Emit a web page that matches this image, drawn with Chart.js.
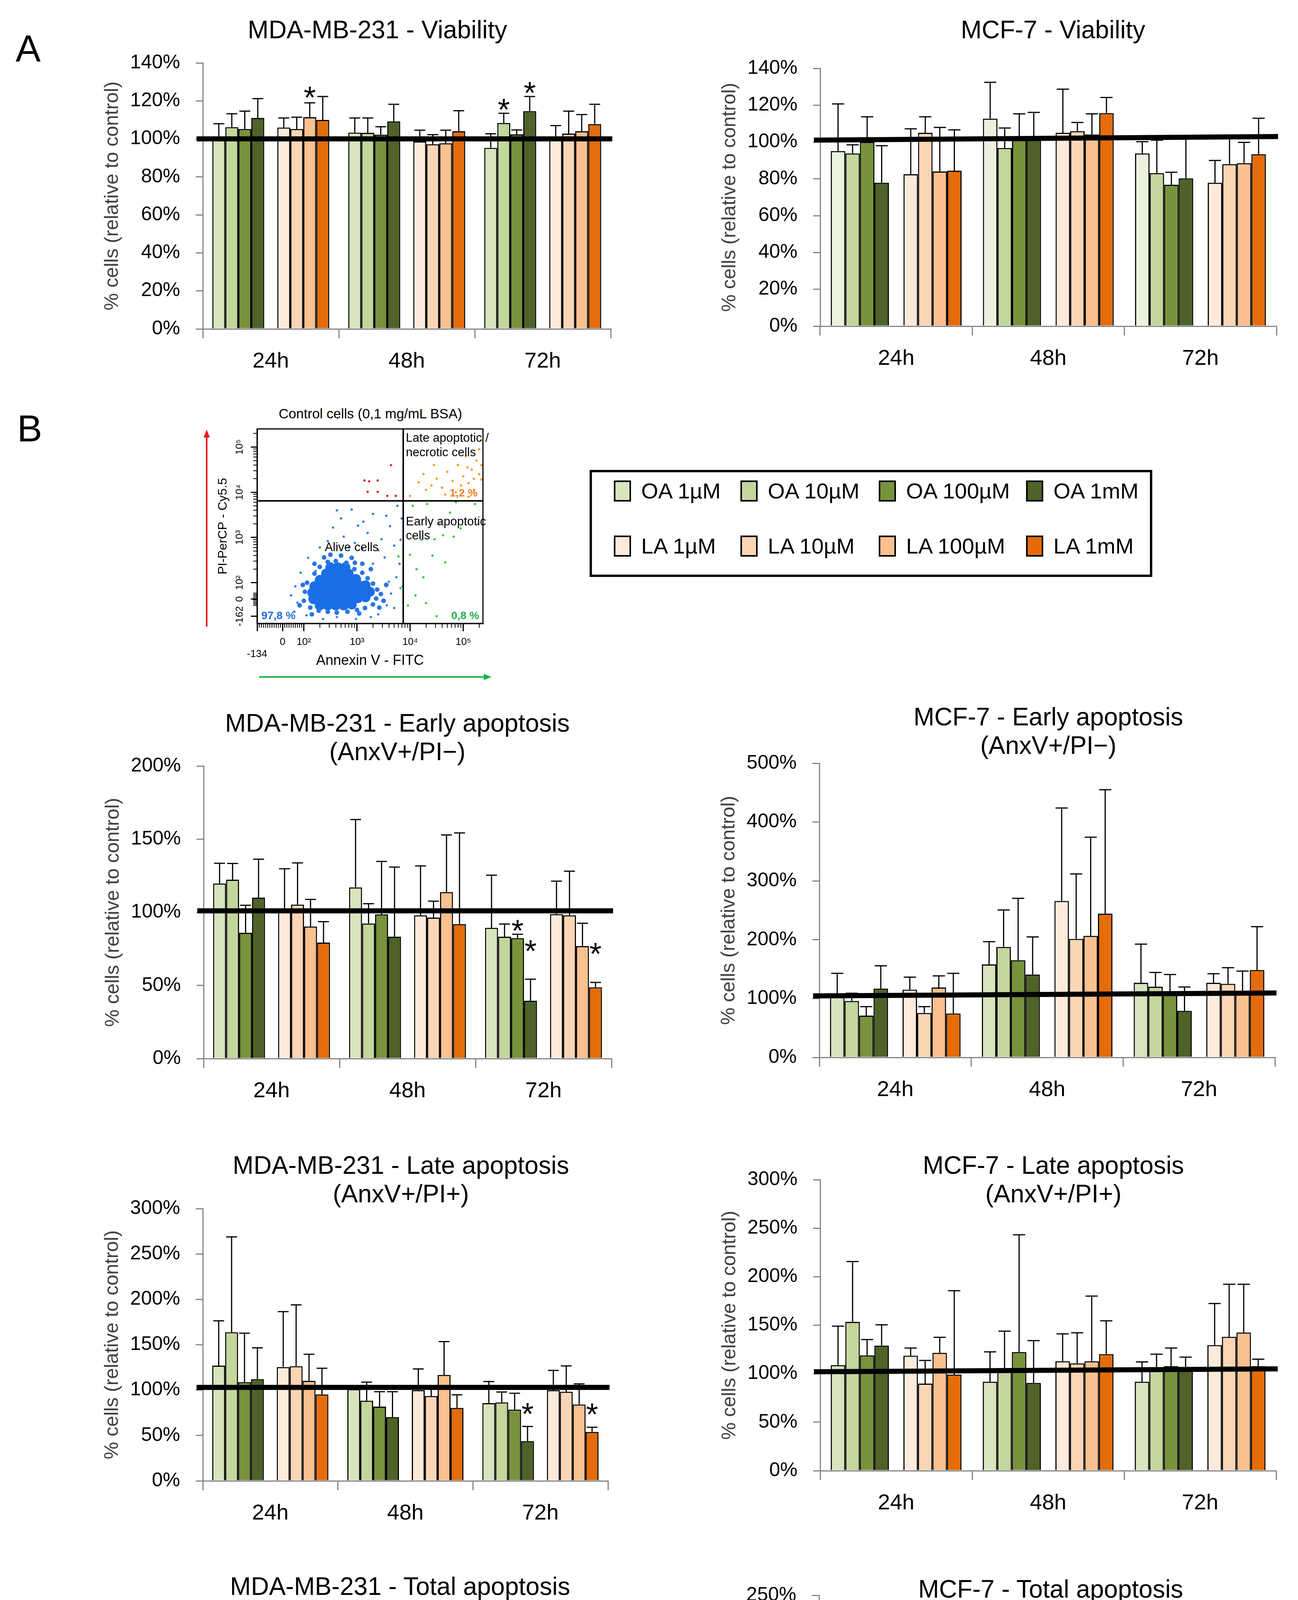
<!DOCTYPE html>
<html>
<head>
<meta charset="UTF-8">
<title>Viability and apoptosis - MDA-MB-231 / MCF-7</title>
<script src="https://cdn.jsdelivr.net/npm/chart.js@4.4.1/dist/chart.umd.min.js"></script>
<style>
    body { margin: 0; background: #fff; }
    #page { position: relative; width: 3322px; height: 4983px; overflow: hidden; background: #fff;
            font-family: 'Liberation Sans', Arial, sans-serif; color: #000; }
    .box { position: absolute; }
    .lbl { position: absolute; white-space: nowrap; line-height: 1; transform: translate(-50%, -50%); }
    #legend { position: absolute; left: 1509px; top: 1203px; width: 1440px; height: 274px;
              border: 6px solid #000; box-sizing: border-box; }
    #legend .item { position: absolute; display: flex; align-items: center; font-size: 56px; line-height: 1;
                    transform: translateY(-50%); white-space: nowrap; }
    #legend .sw { display: inline-block; width: 36px; height: 46px; border: 4px solid #000; margin-right: 26px; }
</style>
</head>
<body>
<div id="page">
    <div class="lbl" style="left:72px;top:124px;font-size:96px;">A</div>
    <div class="lbl" style="left:76px;top:1097px;font-size:96px;">B</div>
    <div class="lbl" style="left:948px;top:1058px;font-size:35px;">Control cells (0,1 mg/mL BSA)</div>
    <div id="legend"></div>
</div>

<script>
    // categories and series
    var timePoints = ['24h', '48h', '72h'];
    var seriesNames = ['OA 1µM', 'OA 10µM', 'OA 100µM', 'OA 1mM', 'LA 1µM', 'LA 10µM', 'LA 100µM', 'LA 1mM'];
    var seriesColours = ['#d7e4bd', '#c3d69b', '#77933c', '#4f6228', '#fdeada', '#fcd5b5', '#fac090', '#e46c0a'];

    // y tick values (%)
    var ticksViability = [0, 20, 40, 60, 80, 100, 120, 140];
    var ticksMdaEarly = [0, 50, 100, 150, 200];
    var ticksMcfEarly = [0, 100, 200, 300, 400, 500];
    var ticksLate = [0, 50, 100, 150, 200, 250, 300];
    var ticksTotal = [0, 50, 100, 150, 200, 250];

    // rows = series (OA 1µM ... LA 1mM), columns = 24h, 48h, 72h
    var mdaViabilityMean = [
        [100, 103.3, 95.3], [106.2, 103.2, 108.4], [105.2, 102.2, 102.4], [111, 109.2, 114.6],
        [106, 98.7, 100], [105.2, 97.2, 102.8], [111.4, 97.7, 104], [110, 104, 107.8]
    ];
    var mdaViabilitySd = [
        [8, 7.7, 7.4], [7, 7.8, 5.1], [9.4, 4.2, 2.3], [10.2, 9, 7.7],
        [5, 5.9, 7], [6.2, 5, 11.8], [7.6, 6.9, 8.8], [12.3, 10.8, 10.4]
    ];
    var mdaViabilityStars = [[0, 6, 125.6], [2, 1, 119.3], [2, 3, 128.1]];  // [time, series, height %]
    var mdaViabilityControl = [100, 100];

    var mcfViabilityMean = [
        [95.1, 112.7, 93.8], [93.8, 96.8, 83.1], [100, 101, 76.8], [77.9, 101, 80.3],
        [82.5, 105, 77.9], [105, 105.9, 88], [84, 104.1, 88.5], [84.4, 115.7, 93.4]
    ];
    var mcfViabilitySd = [
        [25.6, 19.7, 6.4], [4.7, 10.8, 17.9], [13.7, 14.3, 6.8], [20.1, 15.1, 21.6],
        [24.7, 23.7, 12.1], [8.7, 4.7, 14], [23.9, 11.2, 11.3], [22.2, 8.5, 19.5]
    ];
    var mcfViabilityControl = [101, 103];

    var mdaEarlyMean = [
        [119.7, 117, 89.4], [122.3, 92.3, 83.3], [86, 98.6, 82.4], [110, 83.3, 39.5],
        [101, 97.9, 98.7], [105.3, 96.4, 97.9], [90.3, 113.8, 76.9], [79.3, 91.9, 48.7]
    ];
    var mdaEarlySd = [
        [13.8, 46.4, 36], [11.1, 13.6, 8.7], [18.8, 36.2, 2.6], [26.3, 47.6, 14.8],
        [28.8, 33.8, 22.6], [28.5, 11.2, 30.2], [18.5, 39.1, 15.6], [14.3, 62.4, 3.4]
    ];
    var mdaEarlyStars = [[2, 2, 92.5], [2, 3, 78.4], [2, 7, 76.6]];
    var mdaEarlyControl = [101, 101];

    var mcfEarlyMean = [
        [105.8, 158, 126.9], [95.9, 187.7, 120.2], [71.1, 165.2, 108], [117, 140.9, 79.2],
        [115.2, 266, 126.9], [75.6, 201.6, 125.1], [118.8, 206.6, 109], [74.7, 244.4, 148.5]
    ];
    var mcfEarlySd = [
        [37.2, 38.7, 65.7], [13.1, 63, 24.3], [15.3, 105.3, 32.9], [38.7, 63.9, 40.5],
        [21.2, 158, 15.3], [10.8, 110.3, 27.5], [19.8, 167.8, 37.7], [68.3, 210.6, 73.8]
    ];
    var mcfEarlyControl = [104.5, 109.5];

    var mdaLateMean = [
        [127, 101, 85.7], [163.8, 88.3, 86.4], [108.8, 81.8, 78.5], [112.1, 70.3, 43.8],
        [125.4, 100, 100], [126.3, 93.5, 98.2], [110.2, 116.8, 84.2], [95.2, 80.4, 53.9]
    ];
    var mdaLateSd = [
        [49.4, 2, 23.7], [105, 20.5, 11.5], [53.9, 16.4, 18], [34.5, 27.9, 16.1],
        [61.1, 23.3, 21.7], [67.6, 7.5, 28.4], [29.3, 36.6, 22.7], [28.9, 14.4, 5.2]
    ];
    var mdaLateStars = [[2, 3, 81.8], [2, 7, 81.2]];
    var mdaLateControl = [103, 103];

    var mcfLateMean = [
        [108.8, 91.7, 91.7], [153.4, 105.7, 104.6], [118.9, 122.3, 107.8], [129, 90.5, 105.2],
        [118.6, 112.9, 129.5], [89.8, 110.6, 138], [121.5, 112.9, 142.4], [99.2, 120.2, 107.8]
    ];
    var mcfLateSd = [
        [40.2, 30.8, 20.4], [62.2, 38.2, 15.5], [16.3, 120.9, 18.6], [21.4, 43.6, 11.9],
        [7.8, 28.1, 42.8], [23.9, 31.5, 54.2], [16, 67.1, 49.8], [86.3, 34.3, 7.2]
    ];
    var mcfLateControl = [102, 105];

    var mdaTotalMean = [
        [124.8, 104.4, 84.6], [145.2, 91.6, 86.2], [101, 87.1, 78.9], [109.1, 73.5, 43.2],
        [113.8, 101, 98.8], [116.9, 95.1, 96.3], [101, 113.8, 79.4], [88.1, 80.4, 51.3]
    ];
    var mdaTotalSd = [
        [30.7, 16, 27], [65.8, 18.6, 10.1], [38, 19.5, 12.7], [17.7, 31.3, 13.5],
        [29.8, 15.3, 20.4], [41.5, 3.9, 31.2], [17, 27.8, 15.6], [20.8, 18.6, 1.3]
    ];
    var mdaTotalStars = [[2, 3, 78.6], [2, 7, 78.6]];
    var mdaTotalControl = [101, 101];

    var mcfTotalMean = [
        [104.7, 102.5, 97], [136.5, 112, 105.3], [104, 113.5, 105.7], [123.4, 93.4, 100.4],
        [115.8, 125.6, 129.6], [86, 118.8, 135.1], [118.8, 112.5, 135.1], [91.3, 126, 114]
    ];
    var mcfTotalSd = [
        [21, 24.7, 22.9], [38.9, 28.5, 16.3], [10.4, 87.7, 9.5], [27.1, 37.7, 15.9],
        [7.8, 34.6, 35.9], [16.7, 29.6, 49.2], [12.6, 46, 37.1], [78.4, 19.2, 20.2]
    ];
    var mcfTotalControl = [98.8, 101.5];

    // flow cytometry dot plot (axis units = decades)
    var flowXTicks = [1.12, 1.6, 2, 3, 4, 5];
    var flowXTickLabels = ['-134', '0', '10²', '10³', '10⁴', '10⁵'];
    var flowYTicks = [1.26, 1.64, 2, 3, 4, 5];
    var flowYTickLabels = ['-162', '0', '10²', '10³', '10⁴', '10⁵'];
    var gateX = 3.87, gateY = 3.81;
    var aliveCore = [
        [2.3, 1.5], [2.45, 1.5], [2.6, 1.5], [2.75, 1.5], [2.9, 1.52],
        [2.18, 1.64], [2.32, 1.64], [2.46, 1.64], [2.6, 1.64], [2.74, 1.64], [2.88, 1.64], [3.02, 1.66], [3.16, 1.68],
        [2.16, 1.78], [2.3, 1.78], [2.44, 1.78], [2.58, 1.78], [2.72, 1.78], [2.86, 1.78], [3.0, 1.78], [3.14, 1.8], [3.24, 1.8],
        [2.2, 1.92], [2.34, 1.92], [2.48, 1.92], [2.62, 1.92], [2.76, 1.92], [2.9, 1.92], [3.04, 1.94], [3.16, 1.94],
        [2.3, 2.06], [2.44, 2.06], [2.58, 2.06], [2.72, 2.06], [2.86, 2.06], [2.98, 2.08],
        [2.42, 2.2], [2.56, 2.2], [2.7, 2.2], [2.84, 2.2],
        [2.5, 2.34], [2.64, 2.34], [2.78, 2.34]
    ];
    var aliveMid = [
        [2.0, 1.6], [2.02, 1.8], [2.06, 2.0], [2.12, 1.45], [2.2, 2.2], [2.3, 2.35], [2.45, 2.46], [2.6, 2.48],
        [2.8, 2.44], [2.95, 2.3], [3.1, 2.22], [3.2, 2.1], [3.3, 1.98], [3.38, 1.85], [3.36, 1.65], [3.3, 1.52],
        [3.15, 1.44], [3.0, 1.4], [2.82, 1.36], [2.62, 1.34], [2.45, 1.36], [2.28, 1.38], [3.45, 1.75], [3.5, 1.6],
        [3.42, 1.45], [2.9, 2.55], [2.7, 2.6], [2.5, 2.62], [3.1, 2.42], [1.92, 1.5], [1.98, 1.95], [3.26, 2.3],
        [2.15, 1.3], [3.55, 1.95], [2.38, 2.56], [3.04, 1.32], [2.96, 2.44], [2.2, 2.42]
    ];
    var aliveSparse = [
        [2.9, 3.62], [3.3, 3.52], [3.12, 3.35], [2.55, 3.22], [3.62, 3.25], [2.75, 3.02], [3.46, 2.96], [2.3, 2.78],
        [3.7, 2.82], [2.08, 2.55], [3.52, 2.56], [3.8, 2.42], [1.94, 2.22], [3.74, 2.12], [1.84, 1.92], [3.64, 1.76],
        [1.88, 1.56], [3.56, 1.5], [2.05, 1.28], [3.4, 1.3], [2.62, 1.24], [2.98, 1.2], [3.7, 1.44], [3.2, 3.1],
        [2.96, 2.88], [3.4, 2.72], [2.45, 2.92], [3.84, 3.42], [3.76, 3.7], [2.7, 3.42], [3.02, 3.26], [2.22, 2.26],
        [3.86, 1.92], [1.76, 1.72], [2.36, 1.2], [3.26, 1.24], [3.6, 2.02], [3.3, 2.42], [2.84, 2.78], [3.1, 2.74],
        [3.55, 3.48], [2.62, 3.6], [1.82, 1.36], [3.82, 2.95]
    ];
    var earlyApoptotic = [
        [4.05, 3.7], [4.32, 3.74], [4.55, 3.3], [4.75, 3.55], [4.95, 3.2], [4.62, 3.05], [4.22, 2.95], [4.42, 2.6],
        [4.0, 2.62], [4.25, 2.12], [4.66, 2.45], [4.1, 1.72], [4.3, 1.55], [4.5, 1.26], [3.96, 1.5], [4.82, 3.02],
        [4.86, 3.78], [5.22, 3.74], [4.46, 2.96], [3.82, 1.88], [3.78, 2.58], [5.28, 3.3], [4.12, 2.3]
    ];
    var lateApoptotic = [
        [4.0, 3.92], [4.16, 4.22], [4.3, 4.05], [4.5, 4.3], [4.6, 4.1], [4.7, 4.45], [4.8, 4.25], [4.9, 4.6],
        [5.0, 4.35], [5.1, 4.2], [5.16, 4.5], [5.2, 4.05], [5.25, 4.7], [5.3, 4.4], [4.45, 4.6], [4.86, 4.0],
        [5.05, 4.8], [5.3, 4.95], [4.25, 4.4], [4.96, 4.15], [5.34, 4.28], [4.66, 3.95], [5.1, 3.9], [5.33, 5.15],
        [5.2, 4.3], [5.08, 4.55], [4.4, 4.15], [5.34, 4.6]
    ];
    var piOnly = [[3.64, 4.6], [3.14, 4.26], [3.23, 4.24], [3.39, 4.26], [3.2, 4.01], [3.39, 4.01], [3.57, 3.92], [3.73, 3.92]];
    var quadrantPercent = ['97,8 %', '0,8 %', '1,2 %'];

    Chart.defaults.font.family = "'Liberation Sans', Arial, sans-serif";
    Chart.defaults.color = '#000';

    var page = document.getElementById('page');

    function addText(text, x, y, size) {
        var el = document.createElement('div');
        el.className = 'lbl';
        el.textContent = text;
        el.style.left = x + 'px';
        el.style.top = y + 'px';
        el.style.fontSize = size + 'px';
        page.appendChild(el);
    }

    // canvas sized so that the plot area lands on `area`
    // (axis sizes are fixed with afterFit and the top padding is larger than the
    //  axis label overhang, so the plot area is known in advance)
    function makeCanvas(area, pad, yw, xh) {
        var wrap = document.createElement('div');
        wrap.className = 'box';
        wrap.style.left = (area.left - yw - pad.left) + 'px';
        wrap.style.top = (area.top - pad.top) + 'px';
        var cv = document.createElement('canvas');
        cv.width = pad.left + yw + (area.right - area.left) + pad.right;
        cv.height = pad.top + (area.bottom - area.top) + xh + pad.bottom;
        wrap.appendChild(cv);
        page.appendChild(wrap);
        return cv;
    }

    // error bars (upper side only, like the original)
    var errorBars = {
        id: 'errorBars',
        afterDatasetsDraw: function(chart) {
            var ctx = chart.ctx, y = chart.scales.y;
            chart.data.datasets.forEach(function(ds, i) {
                if (!ds.sd) return;
                chart.getDatasetMeta(i).data.forEach(function(bar, j) {
                    var top = y.getPixelForValue(ds.data[j] + ds.sd[j]);
                    var half = bar.width * 0.42;
                    ctx.save();
                    ctx.strokeStyle = '#000';
                    ctx.lineWidth = 3;
                    ctx.beginPath();
                    ctx.moveTo(bar.x, bar.y);
                    ctx.lineTo(bar.x, top);
                    ctx.moveTo(bar.x - half, top);
                    ctx.lineTo(bar.x + half, top);
                    ctx.stroke();
                    ctx.restore();
                });
            });
        }
    };

    // thick black control line
    var controlLine = {
        id: 'controlLine',
        afterDatasetsDraw: function(chart, args, opts) {
            if (!opts.value) return;
            var ctx = chart.ctx, a = chart.chartArea, y = chart.scales.y;
            ctx.save();
            ctx.strokeStyle = '#000';
            ctx.lineWidth = 13;
            ctx.beginPath();
            ctx.moveTo(a.left - 16, y.getPixelForValue(opts.value[0]));
            ctx.lineTo(a.right + 4, y.getPixelForValue(opts.value[1]));
            ctx.stroke();
            ctx.restore();
        }
    };

    // significance asterisks
    var stars = {
        id: 'stars',
        afterDatasetsDraw: function(chart, args, opts) {
            var marks = opts.marks || [];
            var ctx = chart.ctx, y = chart.scales.y;
            ctx.save();
            ctx.font = "80px 'Liberation Sans', Arial, sans-serif";
            ctx.textAlign = 'center';
            ctx.textBaseline = 'alphabetic';
            ctx.fillStyle = '#000';
            marks.forEach(function(m) {
                var bar = chart.getDatasetMeta(m[1] < 4 ? m[1] : m[1] + 1).data[m[0]];
                ctx.fillText('*', bar.x, y.getPixelForValue(m[2]) + 46);
            });
            ctx.restore();
        }
    };

    function barChart(p) {
        var pad = { left: 0, right: 30, top: 80, bottom: 10 };
        var cv = makeCanvas(p.area, pad, 261, 130);
        var colours = p.colours || seriesColours;
        var datasets = [];
        p.mean.forEach(function(row, s) {
            if (s === 4) {
                // empty slot: gap between the OA and LA bars
                datasets.push({ label: '', data: [null, null, null], backgroundColor: 'rgba(0,0,0,0)',
                                borderWidth: 0, categoryPercentage: 0.86, barPercentage: 1 });
            }
            datasets.push({
                label: seriesNames[s],
                data: row,
                sd: p.sd[s],
                backgroundColor: colours[s],
                borderColor: '#000',
                borderWidth: 3,
                categoryPercentage: 0.86,
                barPercentage: 1
            });
        });

        new Chart(cv, {
            type: 'bar',
            data: { labels: timePoints, datasets: datasets },
            options: {
                responsive: false,
                animation: false,
                devicePixelRatio: 1,
                events: [],
                layout: { padding: pad },
                plugins: {
                    legend: { display: false },
                    tooltip: { enabled: false },
                    title: { display: false },
                    controlLine: { value: p.control },
                    stars: { marks: p.stars || [] }
                },
                scales: {
                    x: {
                        grid: { display: true, drawOnChartArea: false, offset: true, tickLength: 24,
                                color: '#868686', lineWidth: 3 },
                        border: { display: true, color: '#868686', width: 3 },
                        ticks: { font: { size: 56 }, padding: 26, color: '#000' },
                        afterFit: function(s) { s.height = 130; }
                    },
                    y: {
                        min: 0,
                        max: p.ticks[p.ticks.length - 1],
                        afterBuildTicks: function(s) { s.ticks = p.ticks.map(function(v) { return { value: v }; }); },
                        grid: { display: true, drawOnChartArea: false, tickLength: 18, color: '#868686', lineWidth: 3 },
                        border: { display: true, color: '#868686', width: 3 },
                        ticks: { font: { size: 50 }, padding: 40, color: '#000',
                                 callback: function(v) { return v + '%'; } },
                        title: { display: true, text: '% cells (relative to control)', font: { size: 50 },
                                 color: '#404040', padding: 0 },
                        afterFit: function(s) { s.width = 261; }
                    }
                }
            },
            plugins: [errorBars, controlLine, stars]
        });
        p.title.forEach(function(line, i) {
            addText(line, p.titleAt[0], p.titleAt[1] - (p.title.length - 1 - i) * 73, 64);
        });
    }

    var panels = [
        { title: ['MDA-MB-231 - Viability'], mean: mdaViabilityMean, sd: mdaViabilitySd, ticks: ticksViability,
          control: mdaViabilityControl, stars: mdaViabilityStars,
          area: { left: 519, top: 161, right: 1563, bottom: 842 }, titleAt: [966, 76] },
        { title: ['MCF-7 - Viability'], mean: mcfViabilityMean, sd: mcfViabilitySd, ticks: ticksViability,
          control: mcfViabilityControl,
          colours: ['#ebf1de'].concat(seriesColours.slice(1)),
          area: { left: 2099, top: 175, right: 3267, bottom: 835 }, titleAt: [2695, 76] },
        { title: ['MDA-MB-231 - Early apoptosis', '(AnxV+/PI\u2212)'], mean: mdaEarlyMean, sd: mdaEarlySd,
          ticks: ticksMdaEarly, control: mdaEarlyControl, stars: mdaEarlyStars,
          area: { left: 521, top: 1961, right: 1565, bottom: 2710 }, titleAt: [1017, 1924] },
        { title: ['MCF-7 - Early apoptosis', '(AnxV+/PI\u2212)'], mean: mcfEarlyMean, sd: mcfEarlySd,
          ticks: ticksMcfEarly, control: mcfEarlyControl,
          area: { left: 2097, top: 1954, right: 3263, bottom: 2707 }, titleAt: [2683, 1908] },
        { title: ['MDA-MB-231 - Late apoptosis', '(AnxV+/PI+)'], mean: mdaLateMean, sd: mdaLateSd,
          ticks: ticksLate, control: mdaLateControl, stars: mdaLateStars,
          area: { left: 519, top: 3094, right: 1556, bottom: 3791 }, titleAt: [1026, 3056] },
        { title: ['MCF-7 - Late apoptosis', '(AnxV+/PI+)'], mean: mcfLateMean, sd: mcfLateSd,
          ticks: ticksLate, control: mcfLateControl,
          area: { left: 2099, top: 3020, right: 3266, bottom: 3765 }, titleAt: [2696, 3056] },
        { title: ['MDA-MB-231 - Total apoptosis', '(AnxV+/PI±)'], mean: mdaTotalMean, sd: mdaTotalSd,
          ticks: ticksTotal, control: mdaTotalControl, stars: mdaTotalStars,
          area: { left: 515, top: 4150, right: 1568, bottom: 4843 }, titleAt: [1024, 4134] },
        { title: ['MCF-7 - Total apoptosis', '(AnxV+/PI±)'], mean: mcfTotalMean, sd: mcfTotalSd,
          ticks: ticksTotal, control: mcfTotalControl,
          area: { left: 2096, top: 4084, right: 3279, bottom: 4830 }, titleAt: [2689, 4141] }
    ];
    panels.forEach(barChart);

    // legend box
    var legendBox = document.getElementById('legend');
    var legendCols = [56, 380, 734, 1111];
    var legendRows = [48, 189];
    seriesNames.forEach(function(name, i) {
        var item = document.createElement('div');
        item.className = 'item';
        item.style.left = legendCols[i % 4] + 'px';
        item.style.top = legendRows[Math.floor(i / 4)] + 'px';
        var sw = document.createElement('span');
        sw.className = 'sw';
        sw.style.background = seriesColours[i];
        item.appendChild(sw);
        item.appendChild(document.createTextNode(name));
        legendBox.appendChild(item);
    });

    // ---- flow cytometry dot plot ----
    // minor tick positions of the log axes
    var minorX = [], minorY = [];
    for (var dec = 2; dec <= 5; dec++) {
        for (var k = 2; k <= 9; k++) {
            var pos = dec + Math.log10(k);
            if (pos < 5.37) minorX.push(pos);
            if (pos < 5.40) minorY.push(pos);
        }
    }
    for (var i1 = 0; i1 < 21; i1++) minorX.push(1.16 + i1 * 0.04);
    for (var i2 = 0; i2 < 10; i2++) minorY.push(1.5 + i2 * 0.03);

    var flowLabels = [
        { t: 'Late apoptotic /', x: 3.92, y: 5.19, align: 'left', color: '#000', bold: false },
        { t: 'necrotic cells', x: 3.92, y: 4.87, align: 'left', color: '#000', bold: false },
        { t: 'Early apoptotic', x: 3.92, y: 3.34, align: 'left', color: '#000', bold: false },
        { t: 'cells', x: 3.92, y: 3.03, align: 'left', color: '#000', bold: false },
        { t: 'Alive cells', x: 2.9, y: 2.77, align: 'center', color: '#000', bold: false },
        { t: quadrantPercent[0], x: 1.2, y: 1.26, align: 'left', color: '#1f6fd6', bold: true },
        { t: quadrantPercent[1], x: 5.3, y: 1.26, align: 'right', color: '#22b14c', bold: true },
        { t: quadrantPercent[2], x: 5.27, y: 3.97, align: 'right', color: '#f07f1e', bold: true }
    ];

    var flowDecor = {
        id: 'flowDecor',
        afterDatasetsDraw: function(chart) {
            var ctx = chart.ctx, a = chart.chartArea, x = chart.scales.x, y = chart.scales.y;
            ctx.save();
            ctx.strokeStyle = '#000';
            ctx.lineWidth = 3;
            ctx.strokeRect(a.left, a.top, a.right - a.left, a.bottom - a.top);
            // quadrant gates
            var gx = x.getPixelForValue(gateX), gy = y.getPixelForValue(gateY);
            ctx.lineWidth = 4;
            ctx.beginPath();
            ctx.moveTo(gx, a.top); ctx.lineTo(gx, a.bottom);
            ctx.moveTo(a.left, gy); ctx.lineTo(a.right, gy);
            ctx.stroke();
            // minor ticks
            ctx.lineWidth = 2;
            ctx.beginPath();
            minorX.forEach(function(v) {
                var px = x.getPixelForValue(v);
                ctx.moveTo(px, a.bottom); ctx.lineTo(px, a.bottom + 11);
            });
            minorY.forEach(function(v) {
                var py = y.getPixelForValue(v);
                ctx.moveTo(a.left, py); ctx.lineTo(a.left - 10, py);
            });
            ctx.stroke();
            // quadrant texts
            ctx.textBaseline = 'middle';
            flowLabels.forEach(function(l) {
                ctx.font = (l.bold ? "bold 28px " : "31px ") + "'Liberation Sans', Arial, sans-serif";
                ctx.fillStyle = l.color;
                ctx.textAlign = l.align;
                ctx.fillText(l.t, x.getPixelForValue(l.x), y.getPixelForValue(l.y));
            });
            // red arrow (PI) and green arrow (Annexin V)
            var rx = a.left - 129;
            ctx.strokeStyle = '#e8161b'; ctx.fillStyle = '#e8161b'; ctx.lineWidth = 4;
            ctx.beginPath(); ctx.moveTo(rx, a.bottom + 8); ctx.lineTo(rx, a.top + 20); ctx.stroke();
            ctx.beginPath(); ctx.moveTo(rx, a.top + 2); ctx.lineTo(rx - 8, a.top + 22); ctx.lineTo(rx + 8, a.top + 22); ctx.closePath(); ctx.fill();
            var gyy = a.bottom + 137;
            ctx.strokeStyle = '#1db14b'; ctx.fillStyle = '#1db14b';
            ctx.beginPath(); ctx.moveTo(a.left + 5, gyy); ctx.lineTo(a.right + 4, gyy); ctx.stroke();
            ctx.beginPath(); ctx.moveTo(a.right + 22, gyy); ctx.lineTo(a.right + 2, gyy - 8); ctx.lineTo(a.right + 2, gyy + 8); ctx.closePath(); ctx.fill();
            ctx.restore();
        }
    };

    function toXY(list) {
        return list.map(function(p) { return { x: p[0], y: p[1] }; });
    }

    var flowPad = { left: 45, right: 30, top: 40, bottom: 45 };
    var fcv = makeCanvas({ left: 658, top: 1098, right: 1236, bottom: 1596 }, flowPad, 106, 118);
    new Chart(fcv, {
        type: 'scatter',
        data: {
            datasets: [
                { data: toXY(aliveSparse), pointRadius: 3, backgroundColor: '#2f7de1', pointBorderWidth: 0 },
                { data: toXY(aliveMid), pointRadius: 6, backgroundColor: '#2a76e2', pointBorderWidth: 0 },
                { data: toXY(aliveCore), pointRadius: 13, backgroundColor: '#1a6fe6', pointBorderWidth: 0 },
                { data: toXY(earlyApoptotic), pointRadius: 3, backgroundColor: '#3ccc3c', pointBorderWidth: 0 },
                { data: toXY(lateApoptotic), pointRadius: 3, backgroundColor: '#f5a02a', pointBorderWidth: 0 },
                { data: toXY(piOnly), pointRadius: 3, backgroundColor: '#e0262a', pointBorderWidth: 0 }
            ]
        },
        options: {
            responsive: false,
            animation: false,
            devicePixelRatio: 1,
            events: [],
            layout: { padding: flowPad },
            plugins: { legend: { display: false }, tooltip: { enabled: false } },
            scales: {
                x: {
                    type: 'linear', min: 1.12, max: 5.37,
                    afterBuildTicks: function(s) { s.ticks = flowXTicks.map(function(v) { return { value: v }; }); },
                    ticks: { autoSkip: false, maxRotation: 0, font: { size: 26 }, padding: 12,
                             callback: function(v, i) { return i === 0 ? ['', flowXTickLabels[0]] : flowXTickLabels[i]; } },
                    grid: { display: true, drawOnChartArea: false, tickLength: 20, color: '#000', lineWidth: 3 },
                    border: { display: true, color: '#000', width: 3 },
                    title: { display: true, text: 'Annexin V - FITC', font: { size: 36 }, padding: 0 },
                    afterFit: function(s) { s.height = 118; }
                },
                y: {
                    type: 'linear', min: 1.10, max: 5.40,
                    afterBuildTicks: function(s) { s.ticks = flowYTicks.map(function(v) { return { value: v }; }); },
                    ticks: { autoSkip: false, minRotation: 90, maxRotation: 90, crossAlign: 'center',
                             font: { size: 26 }, padding: 2,
                             callback: function(v, i) { return flowYTickLabels[i]; } },
                    grid: { display: true, drawOnChartArea: false, tickLength: 16, color: '#000', lineWidth: 3 },
                    border: { display: true, color: '#000', width: 3 },
                    title: { display: true, text: 'PI-PerCP - Cy5.5', font: { size: 32 }, padding: 0 },
                    afterFit: function(s) { s.width = 106; }
                }
            }
        },
        plugins: [flowDecor]
    });
</script>
</body>
</html>
